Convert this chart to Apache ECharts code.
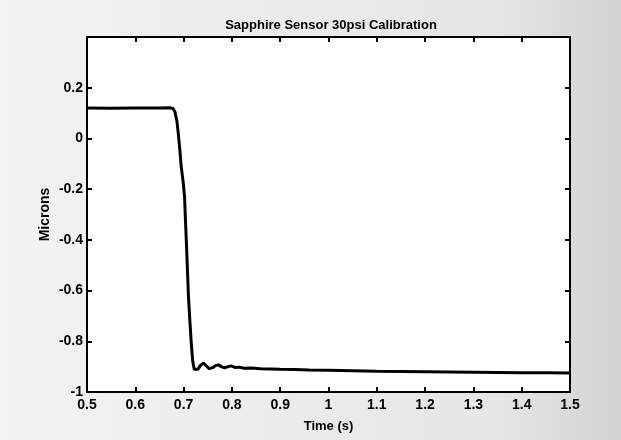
<!DOCTYPE html>
<html>
<head>
<meta charset="utf-8">
<script src="https://cdn.jsdelivr.net/npm/echarts@6/dist/echarts.min.js"></script>
<style>
html,body{margin:0;padding:0;background:#fff;}
#chart{width:621px;height:440px;}
</style>
</head>
<body>
<div id="chart"></div>
<script>
// Time (s)
var timeS = [0.5, 0.55, 0.6, 0.65, 0.672, 0.678, 0.682, 0.686, 0.689, 0.692, 0.695, 0.699, 0.702, 0.704, 0.706, 0.708, 0.710, 0.713, 0.716, 0.719, 0.722, 0.726, 0.730, 0.735, 0.741, 0.747, 0.753, 0.760, 0.766, 0.772, 0.778, 0.785, 0.792, 0.799, 0.806, 0.815, 0.825, 0.84, 0.86, 0.88, 0.9, 0.93, 0.96, 1.0, 1.05, 1.1, 1.15, 1.2, 1.25, 1.3, 1.35, 1.4, 1.45, 1.5];
// Microns
var microns = [0.12, 0.119, 0.12, 0.12, 0.121, 0.118, 0.105, 0.07, 0.02, -0.04, -0.11, -0.17, -0.23, -0.33, -0.42, -0.52, -0.62, -0.72, -0.81, -0.88, -0.91, -0.916, -0.91, -0.895, -0.886, -0.897, -0.908, -0.904, -0.896, -0.893, -0.9, -0.905, -0.9, -0.897, -0.903, -0.902, -0.906, -0.905, -0.908, -0.909, -0.91, -0.911, -0.913, -0.914, -0.916, -0.918, -0.919, -0.92, -0.921, -0.922, -0.923, -0.924, -0.924, -0.925];

var titleText = 'Sapphire Sensor 30psi Calibration';
var xName = 'Time (s)';
var yName = 'Microns';

var pairs = timeS.map(function (t, i) { return [t, microns[i]]; });

var chart = echarts.init(document.getElementById('chart'), null, {renderer: 'canvas'});
var FONT = '"Liberation Sans", Arial, Helvetica, sans-serif';
var axisLineStyle = {color: '#000', width: 2};
var tickCommon = {show: true, inside: true, length: 5, lineStyle: {color: '#000', width: 2}};

chart.setOption({
  backgroundColor: {
    type: 'linear', x: 0, y: 0, x2: 1, y2: 0,
    colorStops: [{offset: 0, color: '#f3f3f3'}, {offset: 0.8, color: '#e6e6e6'}, {offset: 1, color: '#d2d2d2'}]
  },
  animation: false,
  title: {
    text: titleText,
    left: 326, top: 14, textAlign: 'center',
    textStyle: {fontFamily: FONT, fontSize: 13, fontWeight: 'bold', color: '#000'}
  },
  grid: {left: 87, right: 51, top: 37, bottom: 48, show: true, backgroundColor: '#fff', borderColor: '#000', borderWidth: 0},
  xAxis: [{
    type: 'value', min: 0.5, max: 1.5, interval: 0.1,
    name: xName, nameLocation: 'middle', nameGap: 28, nameMoveOverlap: false,
    nameTextStyle: {fontFamily: FONT, fontSize: 13, fontWeight: 'bold', color: '#000'},
    axisLine: {show: true, onZero: false, lineStyle: axisLineStyle},
    axisTick: tickCommon,
    splitLine: {show: false},
    axisLabel: {fontFamily: FONT, fontSize: 14, fontWeight: 'bold', color: '#000', margin: 6,
      formatter: function (v) { return String(+v.toFixed(1)); }}
  }, {
    type: 'value', position: 'top', min: 0.5, max: 1.5, interval: 0.1,
    axisLine: {show: true, onZero: false, lineStyle: axisLineStyle},
    axisTick: tickCommon, axisLabel: {show: false}, splitLine: {show: false}
  }],
  yAxis: [{
    type: 'value', min: -1, max: 0.4, interval: 0.2,
    name: yName, nameLocation: 'middle', nameGap: 35, nameRotate: 90, nameMoveOverlap: false,
    nameTextStyle: {fontFamily: FONT, fontSize: 14, fontWeight: 'bold', color: '#000'},
    axisLine: {show: true, onZero: false, lineStyle: axisLineStyle},
    axisTick: tickCommon,
    splitLine: {show: false},
    axisLabel: {fontFamily: FONT, fontSize: 14, fontWeight: 'bold', color: '#000', margin: 4,
      formatter: function (v) { var r = +v.toFixed(1); return r > 0.3 ? '' : String(r); }}
  }, {
    type: 'value', position: 'right', min: -1, max: 0.4, interval: 0.2,
    axisLine: {show: true, onZero: false, lineStyle: axisLineStyle},
    axisTick: tickCommon, axisLabel: {show: false}, splitLine: {show: false}
  }],
  series: [{
    type: 'line', data: pairs, xAxisIndex: 0, yAxisIndex: 0,
    showSymbol: false, symbol: 'none', smooth: false,
    lineStyle: {color: '#000', width: 3}
  }]
});
</script>
</body>
</html>
